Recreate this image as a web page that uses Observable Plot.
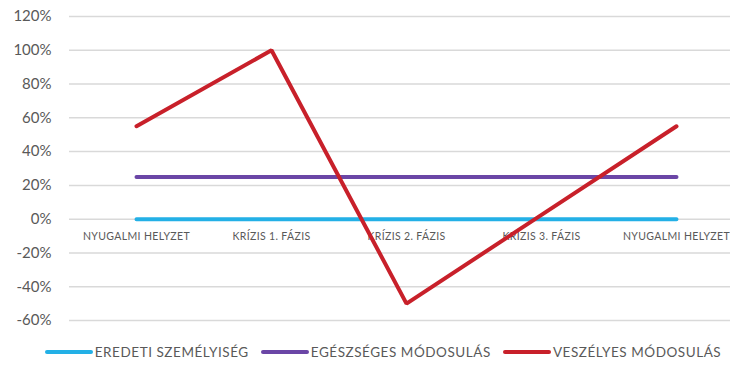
<!DOCTYPE html>
<html><head><meta charset="utf-8">
<script src="https://cdn.jsdelivr.net/npm/d3@7"></script>
<script src="https://cdn.jsdelivr.net/npm/@observablehq/plot@0.6"></script>
<style>
body{margin:0;background:#fff;font-family:Lato,"Open Sans",sans-serif;}
#legend{display:flex;justify-content:center;align-items:center;height:33px;font-size:13.5px;letter-spacing:0.55px;color:#595959;gap:12px;padding-left:36px;}
.item{display:flex;align-items:center;}
.sw{width:48px;height:4px;border-radius:2px;margin-right:2px;}
</style></head><body>
<div id="chart"></div>
<div id="legend"></div>
<script>
const categories = ["NYUGALMI HELYZET","KRÍZIS 1. FÁZIS","KRÍZIS 2. FÁZIS","KRÍZIS 3. FÁZIS","NYUGALMI HELYZET "];
const seriesNames = ["EREDETI SZEMÉLYISÉG","EGÉSZSÉGES MÓDOSULÁS","VESZÉLYES MÓDOSULÁS"];
const eredeti = [0,0,0,0,0];
const egeszseges = [0.25,0.25,0.25,0.25,0.25];
const veszelyes = [0.55,1.0,-0.5,0.025,0.55];
const colors = ["#23B0E6","#6B46A6","#C8202A"];
const yTicks = [1.2,1.0,0.8,0.6,0.4,0.2,0,-0.2,-0.4,-0.6];

const rows = [];
[eredeti,egeszseges,veszelyes].forEach((arr,si)=>arr.forEach((v,i)=>rows.push({s:seriesNames[si],c:categories[i],v})));

const chart = Plot.plot({
  width:730, height:335,
  marginLeft:69, marginRight:0, marginTop:16, marginBottom:15,
  style:{fontFamily:"Lato, 'Open Sans', sans-serif", color:"#595959"},
  x:{type:"point", domain:categories, range:[136,676], padding:0, axis:null},
  y:{domain:[-0.6,1.2], ticks:yTicks, tickFormat:d=>Math.round(d*100)+"%", tickSize:0, tickPadding:18, label:null},
  color:{domain:seriesNames, range:colors},
  marks:[
    Plot.ruleY(yTicks,{stroke:"#D9D9D9", strokeWidth:1.5}),
    Plot.axisY({ticks:yTicks, tickFormat:d=>Math.round(d*100)+"%", tickSize:0, tickPadding:18, fontSize:15, label:null, fill:"#595959"}),
    Plot.text(categories,{x:d=>d, y:()=>0, dy:17, text:d=>d.trim(), fontSize:10.5, fill:"#595959"}),
    Plot.line(rows,{x:"c", y:"v", z:"s", stroke:"s", strokeWidth:4, strokeLinejoin:"miter", strokeLinecap:"round"})
  ]
});
document.getElementById("chart").appendChild(chart);
chart.querySelectorAll("text").forEach(t=>{ if(/[A-Z]/.test(t.textContent)) t.setAttribute("letter-spacing","0.35"); });
const lg = document.getElementById("legend");
seriesNames.forEach((n,i)=>{
  const d=document.createElement("div");d.className="item";
  d.innerHTML=`<div class="sw" style="background:${colors[i]}"></div><span>${n}</span>`;
  lg.appendChild(d);
});
</script>
</body></html>
